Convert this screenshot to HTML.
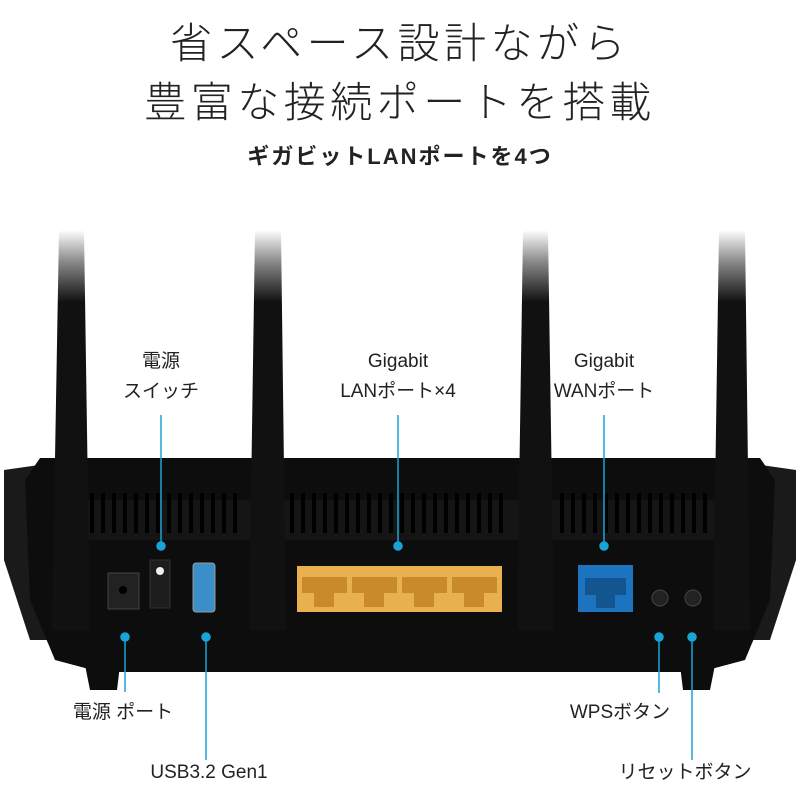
<!DOCTYPE html>
<html><head><meta charset="utf-8"><style>
html,body{margin:0;padding:0;background:#fff;}
svg text{font-family:"Liberation Sans","Noto Sans CJK JP",sans-serif;fill:#222;}
</style></head><body>
<svg width="800" height="800" viewBox="0 0 800 800" xmlns="http://www.w3.org/2000/svg">
<defs>
<linearGradient id="fade" x1="0" y1="0" x2="0" y2="1">
<stop offset="0" stop-color="#111" stop-opacity="0"/>
<stop offset="0.08" stop-color="#111" stop-opacity="0.5"/>
<stop offset="0.18" stop-color="#111" stop-opacity="1"/>
<stop offset="1" stop-color="#111"/>
</linearGradient>
</defs>
<text x="400" y="58" font-size="42" text-anchor="middle" letter-spacing="4.5" font-weight="300">省スペース設計ながら</text>
<text x="400" y="117" font-size="42" text-anchor="middle" letter-spacing="4.5" font-weight="300">豊富な接続ポートを搭載</text>
<text x="400" y="164" font-size="22" text-anchor="middle" font-weight="bold" letter-spacing="2">ギガビットLANポートを4つ</text>

<!-- body wings -->
<path d="M4,470 L60,462 L60,640 L30,640 L4,560 Z" fill="#1a1a1a"/>
<path d="M796,470 L740,462 L740,640 L770,640 L796,560 Z" fill="#1a1a1a"/>
<!-- main body -->
<path d="M40,458 L760,458 L775,480 L770,600 L745,660 L700,672 L100,672 L55,660 L30,600 L25,480 Z" fill="#0d0d0d"/>
<path d="M85,665 L120,665 L117,690 L90,690 Z" fill="#0d0d0d"/>
<path d="M680,665 L715,665 L710,690 L683,690 Z" fill="#0d0d0d"/>
<rect x="55" y="500" width="690" height="40" fill="#151515"/>
<!-- vents -->
<g fill="#000">
<rect x="90" y="493" width="4" height="40"/><rect x="101" y="493" width="4" height="40"/><rect x="112" y="493" width="4" height="40"/><rect x="123" y="493" width="4" height="40"/><rect x="134" y="493" width="4" height="40"/><rect x="145" y="493" width="4" height="40"/><rect x="156" y="493" width="4" height="40"/><rect x="167" y="493" width="4" height="40"/><rect x="178" y="493" width="4" height="40"/><rect x="189" y="493" width="4" height="40"/><rect x="200" y="493" width="4" height="40"/><rect x="211" y="493" width="4" height="40"/><rect x="222" y="493" width="4" height="40"/><rect x="233" y="493" width="4" height="40"/>
<rect x="290" y="493" width="4" height="40"/><rect x="301" y="493" width="4" height="40"/><rect x="312" y="493" width="4" height="40"/><rect x="323" y="493" width="4" height="40"/><rect x="334" y="493" width="4" height="40"/><rect x="345" y="493" width="4" height="40"/><rect x="356" y="493" width="4" height="40"/><rect x="367" y="493" width="4" height="40"/><rect x="378" y="493" width="4" height="40"/><rect x="389" y="493" width="4" height="40"/><rect x="400" y="493" width="4" height="40"/><rect x="411" y="493" width="4" height="40"/><rect x="422" y="493" width="4" height="40"/><rect x="433" y="493" width="4" height="40"/><rect x="444" y="493" width="4" height="40"/><rect x="455" y="493" width="4" height="40"/><rect x="466" y="493" width="4" height="40"/><rect x="477" y="493" width="4" height="40"/><rect x="488" y="493" width="4" height="40"/><rect x="499" y="493" width="4" height="40"/>
<rect x="560" y="493" width="4" height="40"/><rect x="571" y="493" width="4" height="40"/><rect x="582" y="493" width="4" height="40"/><rect x="593" y="493" width="4" height="40"/><rect x="604" y="493" width="4" height="40"/><rect x="615" y="493" width="4" height="40"/><rect x="626" y="493" width="4" height="40"/><rect x="637" y="493" width="4" height="40"/><rect x="648" y="493" width="4" height="40"/><rect x="659" y="493" width="4" height="40"/><rect x="670" y="493" width="4" height="40"/><rect x="681" y="493" width="4" height="40"/><rect x="692" y="493" width="4" height="40"/><rect x="703" y="493" width="4" height="40"/>
</g>
<!-- antennas -->
<path d="M59,230 L84,230 L90,630 L52,630 Z" fill="url(#fade)"/>
<path d="M255,230 L281,230 L286,630 L249,630 Z" fill="url(#fade)"/>
<path d="M523,230 L548,230 L554,630 L517,630 Z" fill="url(#fade)"/>
<path d="M719,230 L745,230 L750,630 L713,630 Z" fill="url(#fade)"/>

<!-- ports -->
<rect x="108" y="573" width="31" height="36" fill="#222" stroke="#444"/>
<circle cx="123" cy="590" r="4" fill="#000"/>
<rect x="150" y="560" width="20" height="48" fill="#1d1d1d" stroke="#333"/>
<circle cx="160" cy="571" r="4" fill="#eee"/>
<rect x="193" y="563" width="22" height="49" rx="3" fill="#3a8fc8" stroke="#999"/>
<rect x="297" y="566" width="205" height="46" fill="#e9b050"/>
<g fill="#c98a2a">
<rect x="302" y="577" width="45" height="16"/><rect x="352" y="577" width="45" height="16"/><rect x="402" y="577" width="45" height="16"/><rect x="452" y="577" width="45" height="16"/>
<rect x="314" y="593" width="20" height="14"/><rect x="364" y="593" width="20" height="14"/><rect x="414" y="593" width="20" height="14"/><rect x="464" y="593" width="20" height="14"/>
</g>
<rect x="578" y="565" width="55" height="47" fill="#1c74c0"/>
<rect x="585" y="578" width="41" height="17" fill="#12558f"/>
<rect x="596" y="595" width="19" height="13" fill="#12558f"/>
<circle cx="660" cy="598" r="8" fill="#222" stroke="#444"/>
<circle cx="693" cy="598" r="8" fill="#222" stroke="#444"/>

<!-- connectors -->
<g stroke="#1aa3d6" stroke-width="1.5" fill="#1aa3d6">
<line x1="161" y1="415" x2="161" y2="545"/><circle cx="161" cy="546" r="4"/>
<line x1="398" y1="415" x2="398" y2="545"/><circle cx="398" cy="546" r="4"/>
<line x1="604" y1="415" x2="604" y2="545"/><circle cx="604" cy="546" r="4"/>
<line x1="125" y1="637" x2="125" y2="692"/><circle cx="125" cy="637" r="4"/>
<line x1="206" y1="637" x2="206" y2="760"/><circle cx="206" cy="637" r="4"/>
<line x1="659" y1="637" x2="659" y2="693"/><circle cx="659" cy="637" r="4"/>
<line x1="692" y1="637" x2="692" y2="760"/><circle cx="692" cy="637" r="4"/>
</g>

<!-- labels -->
<g font-size="19" text-anchor="middle">
<text x="161" y="367">電源</text>
<text x="161" y="397">スイッチ</text>
<text x="398" y="367">Gigabit</text>
<text x="398" y="397">LANポート×4</text>
<text x="604" y="367">Gigabit</text>
<text x="604" y="397">WANポート</text>
<text x="123" y="718">電源 ポート</text>
<text x="209" y="778">USB3.2 Gen1</text>
<text x="620" y="718">WPSボタン</text>
<text x="685" y="778">リセットボタン</text>
</g>
</svg>
</body></html>
